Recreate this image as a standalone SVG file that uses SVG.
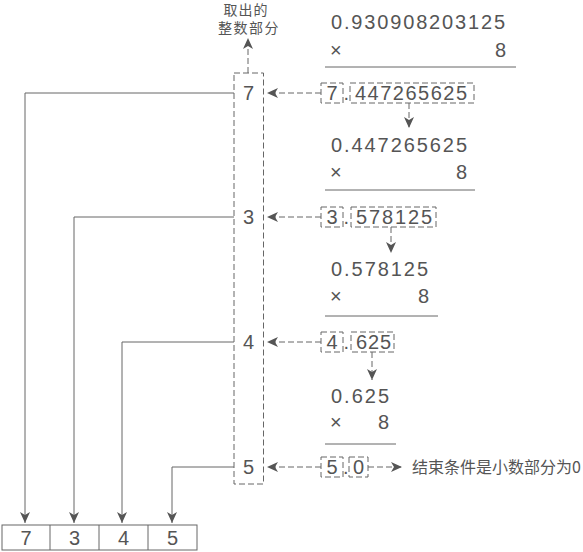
<svg xmlns="http://www.w3.org/2000/svg" width="583" height="552" viewBox="0 0 583 552">
<style>
.t{font-family:"Liberation Sans",Arial,sans-serif;font-size:20px;fill:#555}
.m{text-anchor:middle}
.e{text-anchor:end}
.c{font-family:"Noto Sans CJK SC","Noto Sans",sans-serif;font-size:14px;fill:#555}
.s{fill:none;stroke:#666;stroke-width:1}
.d{fill:none;stroke:#666;stroke-width:1;stroke-dasharray:6,3}
</style>
<defs>
<marker id="ah" markerUnits="userSpaceOnUse" markerWidth="12" markerHeight="11" refX="11" refY="5" orient="auto">
<path d="M0,0 L11,5 L0,10 L3,5 z" fill="#555"/>
</marker>
</defs>
<g id="label-top">
<text class="c m" x="246" y="15" letter-spacing="1">取出的</text>
<text class="c m" x="249" y="33" letter-spacing="1.5">整数部分</text>
</g>
<g id="int-column">
<rect class="d" x="234" y="73" width="29.5" height="411"/>
<text class="t m" x="248.5" y="100">7</text>
<text class="t m" x="248.5" y="224">3</text>
<text class="t m" x="248.5" y="349">4</text>
<text class="t m" x="248.5" y="474">5</text>
</g>
<g id="block1">
<text class="t" x="331" y="29" textLength="174" lengthAdjust="spacing">0.930908203125</text>
<text class="t" x="330" y="57">×</text>
<text class="t e" x="506" y="57">8</text>
<line class="s" x1="325" y1="67" x2="516" y2="67"/>
</g>
<g id="row1">
<rect class="d" x="321" y="83" width="22" height="20"/>
<text class="t m" x="332" y="100">7</text>
<text class="t" x="343.5" y="100">.</text>
<rect class="d" x="350" y="83" width="124" height="20"/>
<text class="t" x="355" y="100" textLength="112" lengthAdjust="spacing">447265625</text>
</g>
<g id="block2">
<text class="t" x="331" y="152" textLength="136" lengthAdjust="spacing">0.447265625</text>
<text class="t" x="330" y="179">×</text>
<text class="t e" x="467" y="179">8</text>
<line class="s" x1="325" y1="190" x2="475" y2="190"/>
</g>
<g id="row2">
<rect class="d" x="321" y="207" width="22" height="20"/>
<text class="t m" x="332" y="224">3</text>
<text class="t" x="343.5" y="224">.</text>
<rect class="d" x="351" y="207" width="85" height="20"/>
<text class="t" x="356" y="224" textLength="76" lengthAdjust="spacing">578125</text>
</g>
<g id="block3">
<text class="t" x="331" y="276" textLength="97" lengthAdjust="spacing">0.578125</text>
<text class="t" x="330" y="303">×</text>
<text class="t e" x="429" y="303">8</text>
<line class="s" x1="325" y1="316" x2="438" y2="316"/>
</g>
<g id="row3">
<rect class="d" x="321" y="332" width="22" height="20"/>
<text class="t m" x="332" y="349">4</text>
<text class="t" x="343.5" y="349">.</text>
<rect class="d" x="351" y="332" width="43" height="20"/>
<text class="t" x="356" y="349" textLength="35" lengthAdjust="spacing">625</text>
</g>
<g id="block4">
<text class="t" x="331" y="403" textLength="58" lengthAdjust="spacing">0.625</text>
<text class="t" x="330" y="429">×</text>
<text class="t e" x="389" y="429">8</text>
<line class="s" x1="325" y1="444" x2="396" y2="444"/>
</g>
<g id="row4">
<rect class="d" x="321" y="457" width="22" height="20"/>
<text class="t m" x="332" y="474">5</text>
<text class="t" x="343" y="474">.</text>
<rect class="d" x="349" y="457" width="19" height="20"/>
<text class="t m" x="358.5" y="474">0</text>
</g>
<g id="end-note">
<text class="c" x="412" y="473" style="font-size:16px">结束条件是小数部分为0</text>
</g>
<g id="result">
<rect class="s" x="2" y="525" width="195" height="25"/>
<line class="s" x1="50" y1="525" x2="50" y2="550"/>
<line class="s" x1="99" y1="525" x2="99" y2="550"/>
<line class="s" x1="148" y1="525" x2="148" y2="550"/>
<text class="t m" x="26" y="545">7</text>
<text class="t m" x="74.5" y="545">3</text>
<text class="t m" x="123.5" y="545">4</text>
<text class="t m" x="172.5" y="545">5</text>
</g>
<g id="connectors">
<line class="d" x1="248" y1="73" x2="248" y2="38" marker-end="url(#ah)"/>
<line class="d" x1="321" y1="93" x2="267" y2="93" marker-end="url(#ah)"/>
<line class="d" x1="321" y1="217" x2="267" y2="217" marker-end="url(#ah)"/>
<line class="d" x1="321" y1="342" x2="267" y2="342" marker-end="url(#ah)"/>
<line class="d" x1="321" y1="467" x2="267" y2="467" marker-end="url(#ah)"/>
<line class="d" x1="368" y1="467" x2="402" y2="467" marker-end="url(#ah)"/>
<line class="d" x1="409" y1="103" x2="409" y2="128" marker-end="url(#ah)"/>
<line class="d" x1="391" y1="227" x2="391" y2="253" marker-end="url(#ah)"/>
<line class="d" x1="372" y1="352" x2="372" y2="380" marker-end="url(#ah)"/>
<path class="s" d="M234,93 H25 V523" marker-end="url(#ah)"/>
<path class="s" d="M234,217 H74 V523" marker-end="url(#ah)"/>
<path class="s" d="M234,342 H122 V523" marker-end="url(#ah)"/>
<path class="s" d="M234,467 H172 V523" marker-end="url(#ah)"/>
</g>
</svg>
